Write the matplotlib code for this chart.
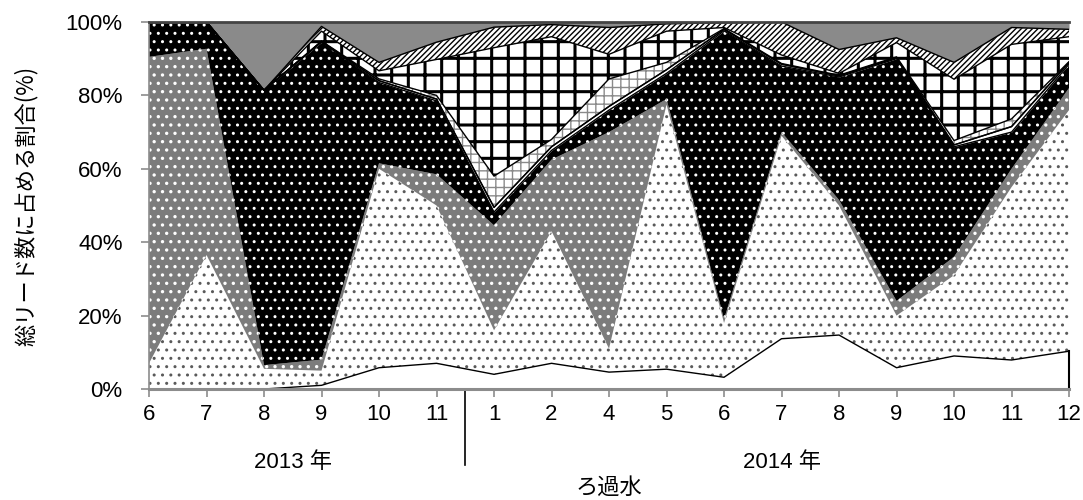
import numpy as np
import matplotlib.pyplot as plt
import matplotlib.transforms as mtransforms
from matplotlib.ticker import PercentFormatter

plt.rcParams['font.family'] = ['Liberation Sans', 'Noto Sans CJK JP']

months = ['6', '7', '8', '9', '10', '11', '1', '2', '4', '5', '6', '7', '8', '9', '10', '11', '12']
years = ['2013 年', '2014 年']
n2013 = 6  # 2013年の月数

# 各グループの割合 (%)、下から順に積み上げ
g1 = [0, 0, 0, 1, 5.8, 7, 4, 7, 4.6, 5.4, 3.2, 13.7, 14.7, 5.8, 9, 7.9, 10.3]
g2 = [7, 36.5, 5.5, 4, 54.2, 43, 12, 36, 6.4, 72.1, 14.8, 55.3, 35.3, 14.2, 22, 47.1, 65.7]
g3 = [83.5, 56.2, 1, 3, 1.5, 8.5, 28.6, 19.5, 59, 1.5, 1, 1, 1.5, 4, 5, 5, 6]
g4 = [9.5, 7.3, 74.9, 86.5, 22, 20, 3.6, 2.5, 6, 7, 78.6, 18, 33.5, 66, 30, 10, 6.5]
g5 = [0, 0, 0, 0.2, 0.5, 0.5, 1.3, 1, 1, 1, 0.4, 0.5, 0.3, 0.3, 0.5, 1.5, 0.5]
g6 = [0, 0, 0, 0.1, 0.5, 1, 8.5, 2, 7.5, 2, 0.2, 0.2, 0.2, 0.2, 1.2, 2.1, 0.2]
g7 = [0, 0, 0, 2.7, 2.2, 9.8, 35, 28, 6.7, 8.5, 0.3, 2.3, 0.5, 3.9, 16.7, 20.3, 6.8]
g8 = [0, 0, 0, 1.3, 2.3, 4.7, 5.6, 3.3, 7.3, 2, 1.3, 9, 6.5, 1.3, 4.6, 4.6, 2]
g9 = [0, 0, 18.6, 1.2, 11, 5.5, 1.4, 0.7, 1.5, 0.5, 0.2, 0, 7.5, 4.3, 11, 1.5, 2]

x = np.arange(len(months))
data = np.array([g1, g2, g3, g4, g5, g6, g7, g8, g9]) / 100
cum = np.vstack([np.zeros(len(x)), np.cumsum(data, axis=0)])

# 塗り色, 模様の色, 模様, 模様の線幅, 上下の枠線
styles = [
    ('white', 'black', None, 1.0, True),
    ('white', '#5a5a5a', '..', 1.0, False),
    ('#7c7c7c', 'white', '..', 1.2, False),
    ('black', 'white', '..', 1.0, False),
    ('white', 'black', None, 1.0, True),
    ('white', '#8a8a8a', '++', 1.0, True),
    ('white', 'black', '+', 2.2, False),
    ('white', 'black', '//////', 1.0, True),
    ('#8a8a8a', '#777777', None, 1.0, False),
]

fig = plt.figure(figsize=(10.83, 5.0), dpi=100)
ax = fig.add_axes([0.1376, 0.222, 0.8495, 0.734])

for i, (fc, hc, hatch, hlw, edge) in enumerate(styles):
    with plt.rc_context({'hatch.linewidth': hlw}):
        ax.fill_between(x, cum[i], cum[i + 1], facecolor=fc, edgecolor=hc,
                        hatch=hatch, linewidth=0, zorder=2 + i * 0.01)
    if edge:
        ax.plot(x, cum[i + 1], color='black', lw=1.0, zorder=3)
        if i > 0:
            ax.plot(x, cum[i], color='black', lw=1.0, zorder=3)

# 右端の縦線
ax.plot([x[-1], x[-1]], [0, cum[1][-1]], color='black', lw=1.5, zorder=3, clip_on=False)
ax.plot(x, cum[-1], color='#444444', lw=2, zorder=3, clip_on=False)

ax.set_xlim(0, len(x) - 1)
ax.set_ylim(0, 1)
ax.set_yticks(np.arange(0, 1.01, 0.2))
ax.yaxis.set_major_formatter(PercentFormatter(1.0, decimals=0))
ax.set_xticks(x)
ax.set_xticklabels(months)

for side in ['top', 'right']:
    ax.spines[side].set_visible(False)
ax.spines['left'].set_color('#8c8c8c')
ax.spines['left'].set_linewidth(1.2)
ax.spines['bottom'].set_color('#8c8c8c')
ax.spines['bottom'].set_linewidth(2.2)
ax.spines['bottom'].set_zorder(5)

ax.tick_params(axis='x', direction='out', length=6, width=1.2, color='#8c8c8c',
               labelsize=16, pad=5)
ax.tick_params(axis='y', direction='out', length=6, width=1.2, color='#8c8c8c',
               labelsize=16, pad=13)

ax.set_ylabel('総リード数に占める割合(%)', fontsize=16, labelpad=20,
              family=['Noto Sans CJK JP'])

# 年のラベルと区切り線
trans = mtransforms.blended_transform_factory(ax.transData, ax.transAxes)
ax.plot([n2013 - 0.5, n2013 - 0.5], [0, -0.207], color='black', lw=1.2,
        transform=trans, clip_on=False)
ax.text((n2013 - 1) / 2, -0.2, years[0], transform=trans, ha='center', va='center', fontsize=16)
ax.text((n2013 + len(x) - 1) / 2, -0.2, years[1], transform=trans, ha='center', va='center',
        fontsize=16)
ax.text(0.5, -0.268, 'ろ過水', transform=ax.transAxes, ha='center', va='center', fontsize=16,
        family=['Noto Sans CJK JP'])

fig.savefig('out.png', dpi=100)
